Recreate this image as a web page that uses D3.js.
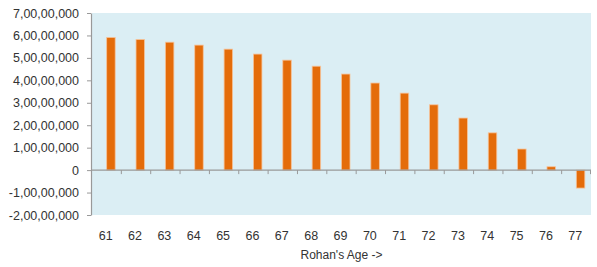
<!DOCTYPE html>
<html>
<head>
<meta charset="utf-8">
<script src="https://cdn.jsdelivr.net/npm/d3@7"></script>
<style>
  body { margin: 0; background: #fff; }
  text { font-family: "Liberation Sans", Arial, sans-serif; fill: #333; }
</style>
</head>
<body>
<div id="chart"></div>
<script>
// Rohan's corpus by age
var ages = ['61','62','63','64','65','66','67','68','69','70','71','72','73','74','75','76','77']
var corpus = [59100000, 58200000, 57000000, 55700000, 53900000, 51700000, 49000000, 46300000,
  42800000, 38800000, 34300000, 29100000, 23200000, 16600000, 9400000, 1500000, -8000000]
var yTicks = [-20000000, -10000000, 0, 10000000, 20000000, 30000000, 40000000, 50000000, 60000000, 70000000]

var W = 597, H = 267
var margin = { left: 91, right: 6, top: 13, bottom: 52 }

var svg = d3.select('#chart').append('svg')
  .attr('width', W)
  .attr('height', H)

var x = d3.scaleBand()
  .domain(ages)
  .range([margin.left + 1, W - margin.right])

var y = d3.scaleLinear()
  .domain([-20000000, 70000000])
  .range([H - margin.bottom, margin.top])

// indian number format 7,00,00,000
function inr(v) {
  if (v === 0) return '0'
  var s = String(Math.abs(v))
  var last = s.slice(-3), rest = s.slice(0, -3)
  if (rest) last = ',' + last
  rest = rest.replace(/\B(?=(\d{2})+(?!\d))/g, ',')
  return (v < 0 ? '-' : '') + rest + last
}

// plot background
svg.append('rect')
  .attr('x', x.range()[0])
  .attr('y', y(70000000))
  .attr('width', x.range()[1] - x.range()[0])
  .attr('height', y(-20000000) - y(70000000))
  .attr('fill', '#dbeef4')

// bars, drawn from band centre to the right
var bw = 8.5
svg.append('g').selectAll('rect')
  .data(corpus)
  .enter()
  .append('rect')
  .attr('x', (d, i) => x(ages[i]) + x.bandwidth() / 2)
  .attr('y', d => y(Math.max(0, d)))
  .attr('width', bw)
  .attr('height', d => Math.abs(y(d) - y(0)))
  .attr('fill', '#e46c0a')
  .attr('stroke', '#f6c39a')
  .attr('stroke-width', 0.8)

// y axis
var yAxis = svg.append('g')
  .attr('transform', 'translate(' + margin.left + ',0)')
  .call(d3.axisLeft(y).tickValues(yTicks).tickFormat(inr).tickSize(4).tickSizeOuter(0))
yAxis.select('.domain').attr('stroke', '#999').attr('stroke-width', 1.2)
yAxis.selectAll('.tick line').attr('stroke', '#999')
yAxis.selectAll('.tick text')
  .attr('x', -12)
  .style('font-size', '12.5px')
  .style('font-family', '"Liberation Sans", Arial, sans-serif')
  .attr('fill', '#333')

// x axis line at zero with ticks between categories
var xg = svg.append('g')
svg.append('line')
  .attr('x1', margin.left)
  .attr('x2', x.range()[1])
  .attr('y1', y(0))
  .attr('y2', y(0))
  .attr('stroke', '#999')
  .attr('stroke-width', 1.2)
xg.selectAll('line')
  .data(ages.slice(1).concat(['end']))
  .enter()
  .append('line')
  .attr('x1', d => d === 'end' ? x.range()[1] - 0.5 : x(d))
  .attr('x2', d => d === 'end' ? x.range()[1] - 0.5 : x(d))
  .attr('y1', y(0))
  .attr('y2', y(0) + 4)
  .attr('stroke', '#999')

// category labels at the bottom
svg.append('g').selectAll('text')
  .data(ages)
  .enter()
  .append('text')
  .attr('x', d => x(d) + x.bandwidth() / 2 - 1)
  .attr('y', 240)
  .attr('text-anchor', 'middle')
  .style('font-size', '12.5px')
  .text(d => d)

svg.append('text')
  .attr('x', (x.range()[0] + x.range()[1]) / 2)
  .attr('y', 259)
  .attr('text-anchor', 'middle')
  .style('font-size', '12px')
  .text("Rohan's Age ->")
</script>
</body>
</html>
